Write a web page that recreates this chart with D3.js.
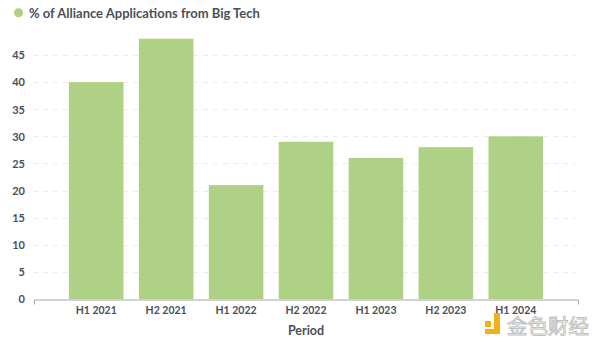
<!DOCTYPE html>
<html><head><meta charset="utf-8">
<script src="https://cdn.jsdelivr.net/npm/d3@7"></script>
<style>body{margin:0;background:#fff}svg{display:block;font-family:Lato,sans-serif}</style>
</head><body><svg id="c" width="600" height="346"></svg>
<script>
const categories = ["H1 2021","H2 2021","H1 2022","H2 2022","H1 2023","H2 2023","H1 2024"];
const values = [40,48,21,29,26,28,30];
const yTicks = [0,5,10,15,20,25,30,35,40,45];
const seriesName = "% of Alliance Applications from Big Tech";
const xTitle = "Period";

const svg = d3.select("#c");
const textCol = "#4a4f5a", barCol = "#aed185";
const x = d3.scaleBand().domain(categories).range([34,578]).paddingInner(0.22).paddingOuter(0.5);
const y = d3.scaleLinear().domain([0,45]).range([299,55]);

// legend
svg.append("circle").attr("cx",18.5).attr("cy",12.7).attr("r",4.5).attr("fill",barCol);
svg.append("text").attr("x",29).attr("y",17.5).attr("fill",textCol).attr("font-size",13).attr("font-weight",700).text(seriesName);

// grid
svg.append("g").selectAll("line").data(yTicks.filter(d=>d>0)).join("line")
  .attr("x1",33).attr("x2",577).attr("y1",d=>Math.round(y(d))+0.5).attr("y2",d=>Math.round(y(d))+0.5)
  .attr("stroke","#eaecef").attr("stroke-dasharray","5,5");

// y axis labels
const ya = svg.append("g").attr("transform","translate(25,0)").call(d3.axisLeft(y).tickValues(yTicks).tickSize(0).tickPadding(0));
ya.select(".domain").remove();
ya.selectAll("text").attr("fill",textCol).attr("font-size",11).attr("font-weight",700).attr("font-family","Lato").attr("dy","0.35em");

// bars
svg.append("g").selectAll("rect").data(values).join("rect")
  .attr("x",(d,i)=>x(categories[i])).attr("width",x.bandwidth())
  .attr("y",d=>y(d)).attr("height",d=>y(0)-y(d)).attr("fill",barCol);

// x axis
const xa = svg.append("g").attr("transform","translate(0,299.5)").call(d3.axisBottom(x).tickSize(0).tickPadding(7).tickSizeOuter(5));
xa.select(".domain").attr("stroke","#a0a4ac");
xa.selectAll("text").attr("fill",textCol).attr("font-size",10.5).attr("font-weight",700).attr("font-family","Lato");

svg.append("text").attr("x",(34+578)/2).attr("y",335).attr("text-anchor","middle").attr("fill",textCol).attr("font-size",12.5).attr("font-weight",700).text(xTitle);

// watermark
const wm = svg.append("g").attr("opacity",0.9);
wm.append("rect").attr("x",485).attr("y",321).attr("width",6).attr("height",6).attr("fill","#f2a900");
wm.append("path").attr("d","M494,313 h6 v21 h-15 v-5 h9 z").attr("fill","#f2a900");
wm.append("text").attr("x",507).attr("y",334).attr("font-family","Noto Sans CJK SC").attr("font-size",20.5).attr("fill","#fff").attr("stroke","#bcbcbc").attr("stroke-width",1).text("金色财经");
</script></body></html>
